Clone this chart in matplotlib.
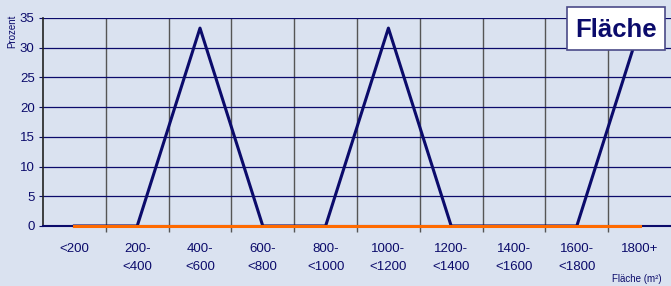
import numpy as np
import matplotlib.pyplot as plt
from matplotlib.patches import Rectangle
from matplotlib.ticker import FixedLocator

plt.rcParams['font.family'] = ['Liberation Sans', 'DejaVu Sans']

CATEGORIES = ['<200', '200-\n<400', '400-\n<600', '600-\n<800', '800-\n<1000',
              '1000-\n<1200', '1200-\n<1400', '1400-\n<1600', '1600-\n<1800', '1800+']
PROZENT = [0, 0, 33.3, 0, 0, 33.3, 0, 0, 0, 33.3]
BASELINE = [0, 0, 0, 0, 0, 0, 0, 0, 0, 0]

BG = '#dae2f0'
NAVY = '#0b0b6b'
ORANGE = '#ff6a00'
W, H = 671, 286

fig = plt.figure(figsize=(6.71, 2.86), dpi=100, facecolor=BG)
ax = fig.add_axes([43/W, 1-226/H, 628/W, 208/H], facecolor=BG)

x = np.arange(len(CATEGORIES))
ax.plot(x, BASELINE, color='#999999', lw=2, zorder=3, clip_on=False)
ax.plot(x, PROZENT, color=NAVY, lw=2.2, zorder=4, clip_on=False)
ax.plot(x, BASELINE, color=ORANGE, lw=2.2, zorder=5, clip_on=False)

ax.set_xlim(-0.5, 9.5)
ax.set_ylim(0, 35)
ax.set_yticks(range(0, 36, 5))
ax.grid(axis='y', color=NAVY, lw=0.9)

ax.set_xticks(x)
ax.set_xticklabels(CATEGORIES, fontsize=9.5, color=NAVY, linespacing=1.75)
ax.xaxis.set_minor_locator(FixedLocator(np.arange(0.5, 9.0, 1)))
ax.tick_params(axis='x', which='major', length=0, pad=12)
ax.tick_params(axis='x', which='minor', length=4, color='#555555', width=1)
ax.grid(axis='x', which='minor', color='#555555', lw=1)
ax.tick_params(axis='y', labelsize=9.5, labelcolor=NAVY, length=3, color=NAVY, pad=3)

for side in ['top', 'right']:
    ax.spines[side].set_visible(False)
ax.spines['left'].set_color('#222222')
ax.spines['left'].set_linewidth(1.2)
ax.spines['bottom'].set_color(NAVY)
ax.spines['bottom'].set_linewidth(1.5)
ax.set_axisbelow(True)

fig.text(12/W, 1-31/H, 'Prozent', rotation=90, fontsize=7, color=NAVY,
         ha='center', va='center')
fig.text(662/W, 1-279/H, 'Fläche (m²)', fontsize=7, color=NAVY,
         ha='right', va='center')

# title box top right
fig.add_artist(Rectangle((567/W, 1-50/H), 98/W, 43/H, transform=fig.transFigure,
                         facecolor='white', edgecolor='#4a4a88', lw=1.2, zorder=10))
fig.text(616/W, 1-30/H, 'Fläche', fontsize=18.5, fontweight='bold', color=NAVY,
         ha='center', va='center', zorder=11)

fig.savefig('out.png', dpi=100, facecolor=BG)
